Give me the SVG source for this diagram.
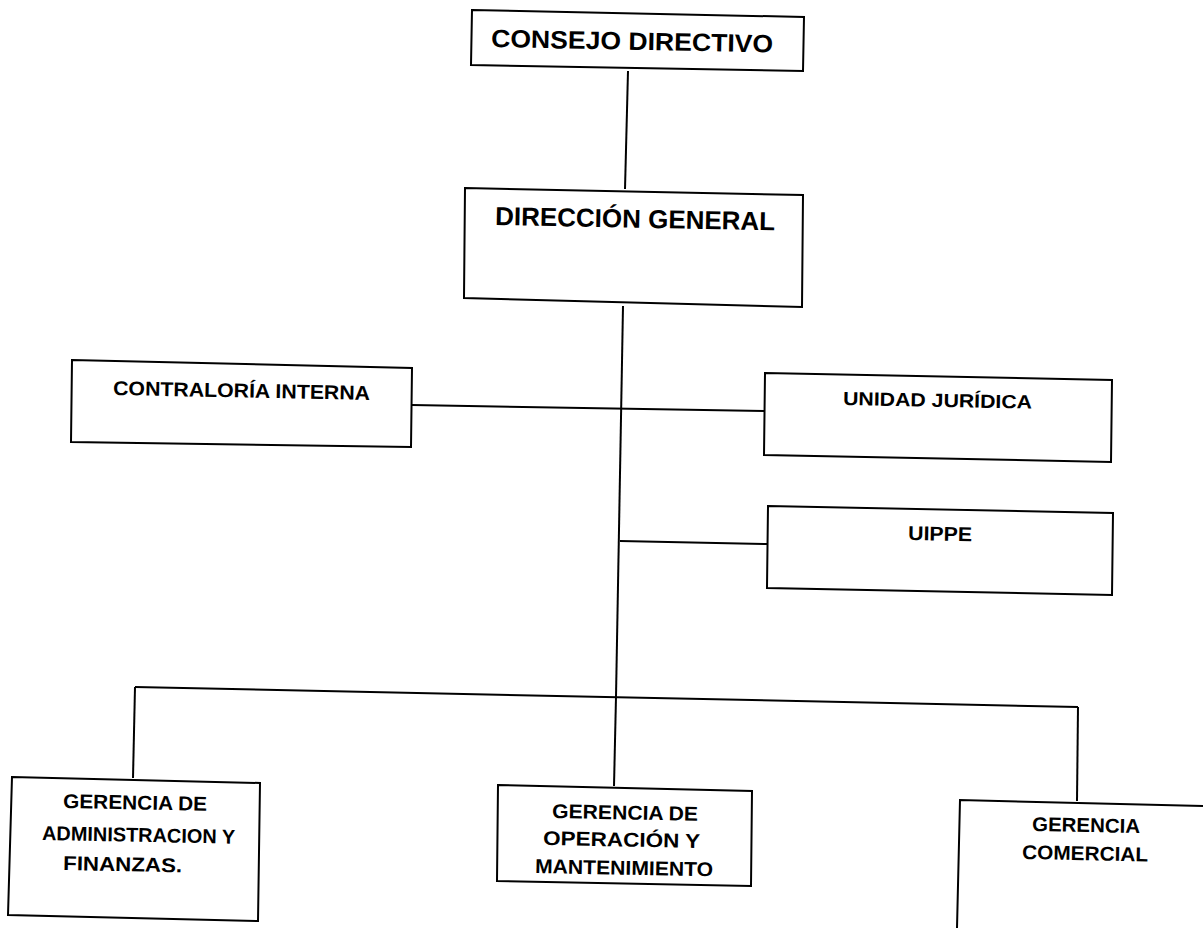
<svg xmlns="http://www.w3.org/2000/svg" width="1203" height="928" viewBox="0 0 1203 928">
<style>
.box{fill:none;stroke:#000;stroke-width:2;stroke-linejoin:miter}
.ln{fill:none;stroke:#000;stroke-width:2}
text{font-family:"Liberation Sans",Arial,sans-serif;font-weight:bold;fill:#000}
</style>
<rect width="1203" height="928" fill="#fff"/>
<g id="connectors">
<line class="ln" x1="628" y1="71" x2="625" y2="189"/>
<line class="ln" x1="623" y1="306" x2="616" y2="697"/>
<line class="ln" x1="412" y1="405" x2="765" y2="411"/>
<line class="ln" x1="620" y1="541" x2="768" y2="544"/>
<line class="ln" x1="135" y1="687" x2="1078" y2="707"/>
<line class="ln" x1="135" y1="687" x2="133" y2="778"/>
<line class="ln" x1="616" y1="697" x2="614" y2="786"/>
<line class="ln" x1="1078" y1="707" x2="1077" y2="801"/>
</g>
<g id="consejo">
<polygon class="box" points="472,10 804,17 803,71 471,65"/>
<text x="491" y="47" font-size="25" textLength="282" lengthAdjust="spacingAndGlyphs" transform="rotate(1.1 491 47)">CONSEJO DIRECTIVO</text>
</g>
<g id="direccion">
<polygon class="box" points="465,188 803,195 802,307 464,298"/>
<text x="495" y="225" font-size="26" textLength="280" lengthAdjust="spacingAndGlyphs" transform="rotate(1.1 495 225)">DIRECCIÓN GENERAL</text>
</g>
<g id="contraloria">
<polygon class="box" points="72,360 412,368 411,447 71,442"/>
<text x="113" y="395" font-size="20" textLength="257" lengthAdjust="spacingAndGlyphs" transform="rotate(1.1 113 395)">CONTRALORÍA INTERNA</text>
</g>
<g id="juridica">
<polygon class="box" points="765,373 1112,380 1111,462 764,455"/>
<text x="843" y="405" font-size="19" textLength="189" lengthAdjust="spacingAndGlyphs" transform="rotate(1.1 843 405)">UNIDAD JURÍDICA</text>
</g>
<g id="uippe">
<polygon class="box" points="768,506 1113,513 1112,595 767,588"/>
<text x="908" y="540" font-size="20" textLength="64" lengthAdjust="spacingAndGlyphs" transform="rotate(1.1 908 540)">UIPPE</text>
</g>
<g id="admin">
<polygon class="box" points="12,777 260,783 258,921 8,915"/>
<text x="63" y="808" font-size="20" textLength="144" lengthAdjust="spacingAndGlyphs" transform="rotate(1.1 63 808)">GERENCIA DE</text>
<text x="42" y="840" font-size="20" textLength="193" lengthAdjust="spacingAndGlyphs" transform="rotate(1.1 42 840)">ADMINISTRACION Y</text>
<text x="63" y="870" font-size="20" textLength="119" lengthAdjust="spacingAndGlyphs" transform="rotate(1.1 63 870)">FINANZAS.</text>
</g>
<g id="operacion">
<polygon class="box" points="498,785 752,791 751,886 497,881"/>
<text x="552" y="818" font-size="20" textLength="146" lengthAdjust="spacingAndGlyphs" transform="rotate(1.1 552 818)">GERENCIA DE</text>
<text x="543" y="845" font-size="20" textLength="157" lengthAdjust="spacingAndGlyphs" transform="rotate(1.1 543 845)">OPERACIÓN Y</text>
<text x="535" y="873" font-size="20" textLength="178" lengthAdjust="spacingAndGlyphs" transform="rotate(1.1 535 873)">MANTENIMIENTO</text>
</g>
<g id="comercial">
<polyline class="box" points="957,928 960,800 1203,806"/>
<text x="1032" y="831" font-size="20" textLength="108" lengthAdjust="spacingAndGlyphs" transform="rotate(1.1 1032 831)">GERENCIA</text>
<text x="1022" y="859" font-size="20" textLength="126" lengthAdjust="spacingAndGlyphs" transform="rotate(1.1 1022 859)">COMERCIAL</text>
</g>
</svg>
